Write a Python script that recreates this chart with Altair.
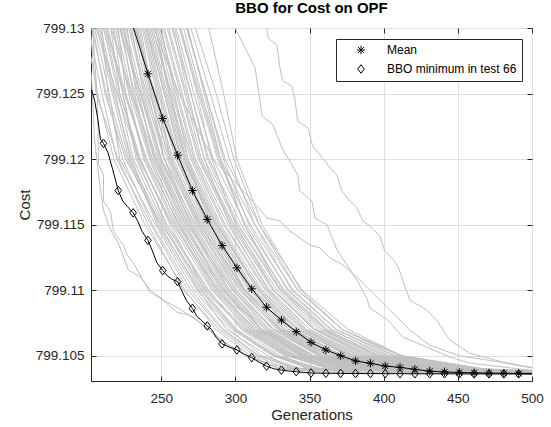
import altair as alt
import pandas as pd

FONT = "Liberation Sans"
TXT = "#262626"

# ---------------- data ----------------
# gray runs: generation at which each run crosses these cost levels, then its value at gen 500
LEVELS = [799.136, 799.13, 799.125, 799.12, 799.115, 799.11, 799.107, 799.105, 799.104]
BAND_CROSS = [
    [190, 199, 207, 218, 239, 266, 287, 310, 330],
    [192, 202, 206, 221, 241, 265, 289, 313, 335],
    [191, 203, 213, 224, 244, 270, 292, 316, 340],
    [197, 205, 215, 222, 246, 272, 296, 318, 345],
    [199, 210, 214, 227, 249, 275, 294, 322, 338],
    [202, 211, 221, 231, 252, 278, 301, 327, 352],
    [201, 214, 224, 233, 254, 282, 304, 330, 356],
    [206, 216, 222, 236, 256, 279, 306, 333, 348],
    [208, 219, 228, 238, 259, 285, 308, 336, 362],
    [210, 221, 226, 240, 262, 287, 311, 338, 367],
    [213, 222, 232, 243, 263, 289, 313, 341, 372],
    [214, 225, 235, 245, 265, 292, 315, 344, 376],
    [217, 227, 233, 247, 268, 294, 318, 347, 380],
    [218, 230, 238, 250, 270, 296, 321, 350, 385],
    [221, 231, 241, 252, 272, 299, 323, 353, 390],
    [223, 234, 243, 255, 275, 301, 326, 357, 394],
    [225, 236, 244, 257, 277, 304, 329, 360, 398],
    [227, 238, 248, 260, 280, 307, 332, 363, 403],
    [229, 240, 250, 262, 283, 310, 336, 368, 408],
    [231, 242, 253, 265, 286, 313, 339, 371, 414],
    [233, 244, 256, 268, 289, 316, 343, 376, 420],
    [236, 247, 258, 271, 292, 320, 347, 380, 425],
    [238, 249, 261, 273, 295, 323, 350, 384, 430],
    [240, 252, 264, 276, 298, 326, 354, 388, 436],
    [243, 255, 267, 279, 301, 330, 358, 392, 440],
    [245, 257, 270, 282, 304, 333, 362, 396, 445],
    [248, 260, 272, 285, 307, 336, 365, 400, 450],
    [250, 262, 275, 288, 310, 339, 368, 404, 455],
    [253, 265, 277, 290, 313, 342, 372, 408, 460],
    [255, 267, 280, 293, 316, 345, 376, 412, 465],
    [253, 263, 276, 289, 306, 332, 361, 398, 446],
    [257, 267, 280, 292, 309, 335, 364, 402, 452],
    [260, 270, 283, 296, 313, 338, 368, 407, 458],
    [263, 273, 287, 299, 316, 342, 372, 411, 464],
    [270, 282, 292, 301, 318, 344, 372, 412, 468],
    [196, 206, 220, 235, 258, 288, 312, 340, 372],
    [225, 235, 243, 252, 270, 296, 318, 346, 378],
    [210, 222, 236, 250, 273, 303, 330, 362, 402],
    [240, 250, 259, 268, 283, 306, 330, 356, 390],
    [205, 216, 230, 246, 268, 298, 326, 358, 398],
    [232, 244, 257, 270, 290, 318, 346, 380, 425],
    [218, 228, 239, 252, 276, 306, 338, 372, 418],
    [246, 258, 268, 279, 296, 322, 350, 384, 432],
    [199, 212, 225, 240, 262, 291, 318, 348, 385],
    [236, 246, 256, 266, 284, 310, 336, 366, 406],
    [222, 232, 246, 260, 282, 312, 342, 378, 428],
    [252, 263, 274, 284, 300, 326, 354, 390, 440],
    [212, 220, 230, 243, 264, 292, 318, 352, 392],
    [228, 240, 252, 264, 287, 315, 340, 372, 415],
    [258, 268, 279, 290, 306, 330, 358, 396, 448],
    [193, 204, 212, 226, 250, 280, 305, 334, 366],
    [200, 209, 219, 229, 247, 274, 298, 325, 350],
    [204, 213, 226, 239, 260, 286, 310, 339, 374],
    [207, 218, 224, 234, 253, 281, 307, 335, 364],
    [211, 224, 234, 246, 266, 293, 317, 346, 382],
    [215, 226, 237, 249, 271, 298, 322, 352, 388],
    [219, 229, 240, 254, 274, 300, 325, 356, 396],
    [224, 233, 245, 258, 279, 305, 331, 362, 402],
    [226, 239, 249, 261, 281, 309, 334, 366, 410],
    [230, 241, 252, 263, 285, 312, 338, 370, 412],
    [234, 246, 255, 267, 288, 315, 342, 375, 418],
    [237, 248, 260, 272, 293, 321, 348, 382, 428],
    [241, 251, 263, 275, 297, 325, 353, 386, 434],
    [195, 207, 217, 228, 251, 277, 300, 328, 358],
    [203, 212, 222, 235, 257, 284, 309, 337, 370],
    [209, 217, 229, 242, 261, 288, 314, 343, 378],
    [216, 224, 236, 248, 269, 295, 320, 349, 386],
    [220, 233, 242, 256, 276, 303, 328, 359, 400],
    [244, 254, 266, 277, 299, 328, 356, 390, 438],
    [249, 259, 270, 281, 302, 331, 360, 394, 442],
    [194, 201, 210, 220, 243, 268, 291, 315, 342],
    [198, 208, 218, 230, 248, 276, 299, 326, 354],
    [212, 223, 231, 244, 267, 290, 316, 345, 384],
    [226, 237, 247, 256, 278, 306, 333, 364, 406],
    [235, 243, 254, 266, 287, 317, 345, 378, 422],
]
BAND_FINAL = [
    799.10361, 799.10362, 799.10362, 799.10361, 799.10363,
    799.10364, 799.10363, 799.10362, 799.10365, 799.10364,
    799.10366, 799.10365, 799.10366, 799.10367, 799.10366,
    799.10367, 799.10366, 799.10368, 799.10368, 799.10369,
    799.10370, 799.10369, 799.10371, 799.10372, 799.10373,
    799.10374, 799.10375, 799.10377, 799.10379, 799.10382,
    799.10373, 799.10376, 799.10378, 799.10381, 799.10384,
    799.10365, 799.10366, 799.10368, 799.10366, 799.10367,
    799.10370, 799.10369, 799.10372, 799.10366, 799.10368,
    799.10371, 799.10373, 799.10367, 799.10369, 799.10375,
    799.10365, 799.10364, 799.10366, 799.10364, 799.10366,
    799.10367, 799.10367, 799.10368, 799.10369, 799.10368,
    799.10370, 799.10371, 799.10372, 799.10364, 799.10365,
    799.10366, 799.10366, 799.10368, 799.10373, 799.10374,
    799.10362, 799.10363, 799.10366, 799.10368, 799.10370,
]

# individually traced gray runs (outliers on the right, early runs on the left)
O1_GEN = [296, 299.8, 313.3, 318, 325.4, 331.4, 342, 343.5, 351.6, 353.6, 361.7, 368.4, 382.6,
          388.6, 390.6, 402.8, 412.9, 429, 444.5, 458, 498, 500]
O1_VAL = [799.1325, 799.13, 799.12695, 799.12329, 799.1226, 799.12085, 799.11879, 799.11756,
          799.1168, 799.1155, 799.1150, 799.1131, 799.11062, 799.1094, 799.10864, 799.10772,
          799.10643, 799.10566, 799.1049, 799.10444, 799.1039, 799.10389]
O2_GEN = [318, 321.3, 322, 328, 330, 332, 338, 340, 342, 349, 352, 360.4, 363.7, 368.4, 371.8,
          377.2, 381.9, 385.9, 390.6, 397.4, 400.7, 405.5, 409.5, 417.6, 429, 435.7, 444.5,
          458, 480, 498, 500]
O2_VAL = [799.1322, 799.13, 799.12924, 799.1287, 799.12695, 799.12596, 799.12558, 799.12466,
          799.1229, 799.12237, 799.1210, 799.11985, 799.11932, 799.11879, 799.11756, 799.1168,
          799.11627, 799.11528, 799.1149, 799.11413, 799.11299, 799.11245, 799.11184, 799.10925,
          799.10849, 799.10772, 799.1062, 799.1052, 799.10452, 799.10414, 799.10412]
O3_GEN = [235, 245, 262, 285, 310, 321.3, 330, 336.8, 343.5, 350.3, 357, 363.7, 372.5, 381.9,
          390.6, 404, 417.6, 431, 451, 478, 498, 500]
O3_VAL = [799.1336, 799.13, 799.125, 799.12, 799.117, 799.1155, 799.11528, 799.11451, 799.11398,
          799.11345, 799.11322, 799.11245, 799.11192, 799.111, 799.11, 799.10849, 799.10696,
          799.1058, 799.1050, 799.10452, 799.1041, 799.1041]
L1_GEN = [200, 203.6, 207, 207.6, 211, 211, 215.7, 217.7, 224.4, 227, 231, 242.6, 249.3, 260.8,
          269.5, 280, 295, 310, 330, 360, 420, 500]
L1_VAL = [799.132, 799.13, 799.1245, 799.1196, 799.1188, 799.1168, 799.116, 799.1145, 799.11344,
          799.11268, 799.1121, 799.1098, 799.1094, 799.1083, 799.1081, 799.1072, 799.1058,
          799.1049, 799.104, 799.10375, 799.10368, 799.10365]
L2_GEN = [198, 203, 205, 208, 211, 215.7, 221, 227.8, 236, 242.6, 252, 262, 275, 290, 305, 320,
          345, 400, 500]
L2_VAL = [799.130, 799.1262, 799.1215, 799.1185, 799.1161, 799.1146, 799.1136, 799.11154,
          799.111, 799.1100, 799.1092, 799.1086, 799.1076, 799.1062, 799.1052, 799.1044,
          799.1039, 799.10372, 799.10368]

# mean of all runs
MEAN_GEN = [221, 231, 241, 251, 261, 271, 281, 291, 301, 311, 321, 331, 341, 351, 361, 371,
            381, 391, 401, 411, 421, 431, 441, 451, 461, 471, 481, 491, 500]
MEAN_VAL = [799.1338, 799.1301, 799.1265, 799.1231, 799.1203, 799.1176, 799.1154, 799.1134,
            799.1117, 799.1101, 799.1087, 799.10772, 799.10683, 799.10602, 799.10544, 799.1050,
            799.1046, 799.10442, 799.10421, 799.10411, 799.10396, 799.10382, 799.10376,
            799.10372, 799.10369, 799.10367, 799.10366, 799.10365, 799.10365]

# best run (test 66)
MIN_GEN = [203, 205, 207, 209, 211, 214, 217, 221, 224, 227, 231, 234, 237, 241, 244, 247, 251,
           254, 257, 261, 264, 267, 271, 274, 277, 281, 284, 287, 291, 296, 301, 306, 311, 316,
           321, 326, 331, 336, 341, 351, 361, 371, 381, 391, 401, 411, 421, 431, 441, 451, 461,
           471, 481, 491, 500]
MIN_VAL = [799.1253, 799.1245, 799.1232, 799.1215, 799.1212, 799.1205, 799.1193, 799.1176,
           799.1168, 799.1164, 799.1159, 799.1153, 799.1145, 799.1138, 799.1130, 799.1121,
           799.1115, 799.1111, 799.11085, 799.11065, 799.1099, 799.1092, 799.10861, 799.1080,
           799.1077, 799.10727, 799.1070, 799.1064, 799.1059, 799.10565, 799.10544, 799.1051,
           799.10485, 799.1045, 799.1042, 799.1040, 799.1039, 799.10383, 799.10378, 799.10368,
           799.10366, 799.10365, 799.10364, 799.10364, 799.10363, 799.10363, 799.10362,
           799.10362, 799.10362, 799.10361, 799.10361, 799.10361, 799.10361, 799.10361, 799.10360]

SERIES = ["Mean", "BBO minimum in test 66"]
X_TICKS = [250, 300, 350, 400, 450, 500]
Y_TICKS = [799.105, 799.11, 799.115, 799.12, 799.125, 799.13]
X_DOMAIN = [202.6, 500]
Y_DOMAIN = [799.10307, 799.13]

# ---------------- tables ----------------
rows = []
for i, (cross, fin) in enumerate(zip(BAND_CROSS, BAND_FINAL)):
    pts = list(zip(cross, LEVELS)) + [(500, fin)]
    for k, (g, v) in enumerate(pts):
        rows.append({"line": f"b{i}", "idx": k, "gen": g, "cost": v})
for name, gens, vals in [("o1", O1_GEN, O1_VAL), ("o2", O2_GEN, O2_VAL), ("o3", O3_GEN, O3_VAL),
                         ("l1", L1_GEN, L1_VAL), ("l2", L2_GEN, L2_VAL)]:
    for k, (g, v) in enumerate(zip(gens, vals)):
        rows.append({"line": name, "idx": k, "gen": g, "cost": v})
gray = pd.DataFrame(rows)

mean_df = pd.DataFrame({"gen": MEAN_GEN, "cost": MEAN_VAL, "idx": range(len(MEAN_GEN))})
min_df = pd.DataFrame({"gen": MIN_GEN, "cost": MIN_VAL, "idx": range(len(MIN_GEN))})

mk_mean = mean_df[(mean_df.gen % 10 == 1) & (mean_df.cost <= Y_DOMAIN[1])].assign(series=SERIES[0])
mk_min = min_df[(min_df.gen % 10 == 1)].assign(series=SERIES[1])
markers = pd.concat([mk_mean, mk_min], ignore_index=True)

AST = "M-1,0L1,0M0,-1L0,1M-0.7,-0.7L0.7,0.7M-0.7,0.7L0.7,-0.7"
DIA = "M0,-1L0.78,0L0,1L-0.78,0Z"

xs = alt.Scale(domain=X_DOMAIN, nice=False, zero=False)
ys = alt.Scale(domain=Y_DOMAIN, nice=False, zero=False)

common = dict(labelFont=FONT, titleFont=FONT, labelColor=TXT, titleColor=TXT,
              labelFontSize=13.5, titleFontSize=15, titleFontWeight="normal",
              tickColor=TXT, tickWidth=1, tickSize=5, offset=-5, domain=False,
              labelOverlap=False, labelFlush=False)

x_main = alt.Axis(orient="bottom", values=X_TICKS, title="Generations", grid=True,
                  gridColor="#dfdfdf", gridWidth=1, labelPadding=10, titlePadding=3, **common)
y_main = alt.Axis(orient="left", values=Y_TICKS, format=".3~f", title="Cost", grid=True,
                  gridColor="#dfdfdf", gridWidth=1, labelPadding=7, titlePadding=3, **common)
x_top = alt.Axis(orient="top", values=X_TICKS, labels=False, grid=False, title=None,
                 tickColor=TXT, tickWidth=1, tickSize=5, offset=-5, domain=False)
y_right = alt.Axis(orient="right", values=Y_TICKS, labels=False, grid=False, title=None,
                   tickColor=TXT, tickWidth=1, tickSize=5, offset=-5, domain=False)

gray_layer = alt.Chart(gray).mark_line(color="#c0c0c0", strokeWidth=1, clip=True).encode(
    x=alt.X("gen:Q", scale=xs, axis=x_main),
    y=alt.Y("cost:Q", scale=ys, axis=y_main),
    detail="line:N",
    order="idx:Q",
)
min_layer = alt.Chart(min_df).mark_line(color="black", strokeWidth=1, clip=True).encode(
    x=alt.X("gen:Q", scale=xs, axis=x_top),
    y=alt.Y("cost:Q", scale=ys, axis=y_right),
    order="idx:Q",
)
mean_layer = alt.Chart(mean_df).mark_line(color="black", strokeWidth=1, clip=True).encode(
    x=alt.X("gen:Q", scale=xs, axis=None),
    y=alt.Y("cost:Q", scale=ys, axis=None),
    order="idx:Q",
)
pts_layer = alt.Chart(markers).mark_point(filled=False, color="black", strokeWidth=1,
                                          size=72, opacity=1, clip=True).encode(
    x=alt.X("gen:Q", scale=xs, axis=None),
    y=alt.Y("cost:Q", scale=ys, axis=None),
    shape=alt.Shape("series:N", scale=alt.Scale(domain=SERIES, range=[AST, DIA]),
                    legend=alt.Legend(title=None, orient="none", legendX=245, legendY=11,
                                      fillColor="white", strokeColor=TXT, padding=5,
                                      labelFont=FONT, labelFontSize=12, labelColor="black",
                                      symbolSize=72, symbolStrokeColor="black",
                                      symbolFillColor="white", symbolStrokeWidth=1,
                                      symbolOffset=14, labelOffset=20, rowPadding=5,
                                      labelLimit=300)),
)

chart = alt.layer(gray_layer, min_layer, mean_layer, pts_layer).properties(
    width=441, height=353,
    padding={"left": 91, "top": 28, "right": 19, "bottom": 46},
    autosize=alt.AutoSizeParams(type="none"),
    title=alt.Title("BBO for Cost on OPF", font=FONT, fontSize=15, fontWeight="bold",
                    color="black", anchor="middle", offset=5),
).configure_view(stroke=TXT, strokeWidth=1)

chart.save("out.html", embed_options={"renderer": "svg", "actions": False})
